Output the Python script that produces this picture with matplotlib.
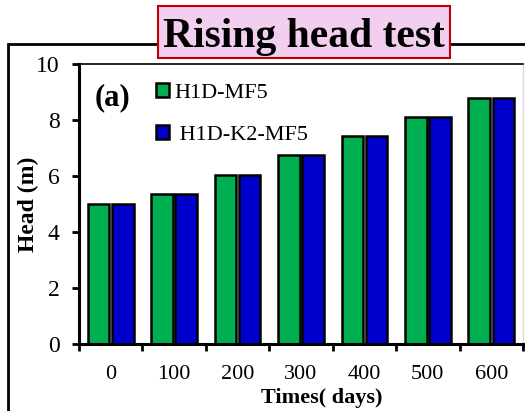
import numpy as np
import matplotlib.pyplot as plt
import matplotlib
from matplotlib.patches import Rectangle

matplotlib.rc('font', family='Liberation Serif', size=16)

# head readings (m) for the two models
times = ['0', '100', '200', '300', '400', '500', '600']
h1d_mf5 = [5.0, 5.35, 6.05, 6.75, 7.42, 8.12, 8.8]
h1d_k2_mf5 = [5.0, 5.35, 6.05, 6.75, 7.42, 8.12, 8.8]

green = '#00B050'
blue = '#0000CC'

fig = plt.figure(figsize=(5.25, 4.11), dpi=100)
ax = fig.add_axes([79/525, 1-344/411, 444/525, 280/411])

x = np.arange(len(times))
w = 0.34
ax.bar(x - 0.19, h1d_mf5, w, color=green, edgecolor='k', lw=1.8, label='H1D-MF5')
ax.bar(x + 0.19, h1d_k2_mf5, w, color=blue, edgecolor='k', lw=1.8, label=' H1D-K2-MF5')

ax.set_xlim(-0.5, len(times) - 0.5)
ax.set_ylim(0, 10)
ax.set_yticks([0, 2, 4, 6, 8, 10])
ax.set_xticks(np.arange(-0.5, len(times)), [])
ax.set_xticks(x, times, minor=True)
ax.tick_params(axis='x', which='minor', length=0, pad=15)
ax.tick_params(axis='x', which='major', length=5, width=2)
ax.tick_params(axis='y', length=5, width=2, pad=9, labelsize=17)

for s in ['left', 'bottom']:
    ax.spines[s].set_linewidth(2.2)
ax.spines['top'].set_linewidth(1.2)
ax.spines['right'].set_color('#d9d9d9')
ax.spines['right'].set_linewidth(1)

ax.set_ylabel('Head (m)', fontweight='bold', fontsize=17)
ax.yaxis.set_label_coords(-40/444, 0.5)
fig.text(322/525, 1-398/411, 'Times( days)', ha='center', va='center',
         fontweight='bold', fontsize=16)

ax.text(95/525, 1-98/411, '(a)', transform=fig.transFigure, fontweight='bold',
        fontsize=22, ha='left', va='center')
ax.legend(loc='upper left', bbox_to_anchor=(145/525, 1-72/411),
          bbox_transform=fig.transFigure, frameon=False, handlelength=0.6,
          handleheight=0.6, handletextpad=0.2, labelspacing=1.0,
          borderpad=0, fontsize=16)

# outer frame around the panel
fig.patches.append(Rectangle((8/525, -0.2), 1.2, 0.2 + 1 - 44/411,
                             transform=fig.transFigure, fill=False, ec='k', lw=2))

# title box
fig.patches.append(Rectangle((158/525, 1-58/411), 292/525, 52/411,
                             transform=fig.transFigure, fc='#F2CEEF', ec='#C00000', lw=1.5))
fig.text(304/525, 1-47/411, 'Rising head test', ha='center', va='baseline',
         fontweight='bold', fontsize=30)

plt.savefig('out.png', dpi=100)
